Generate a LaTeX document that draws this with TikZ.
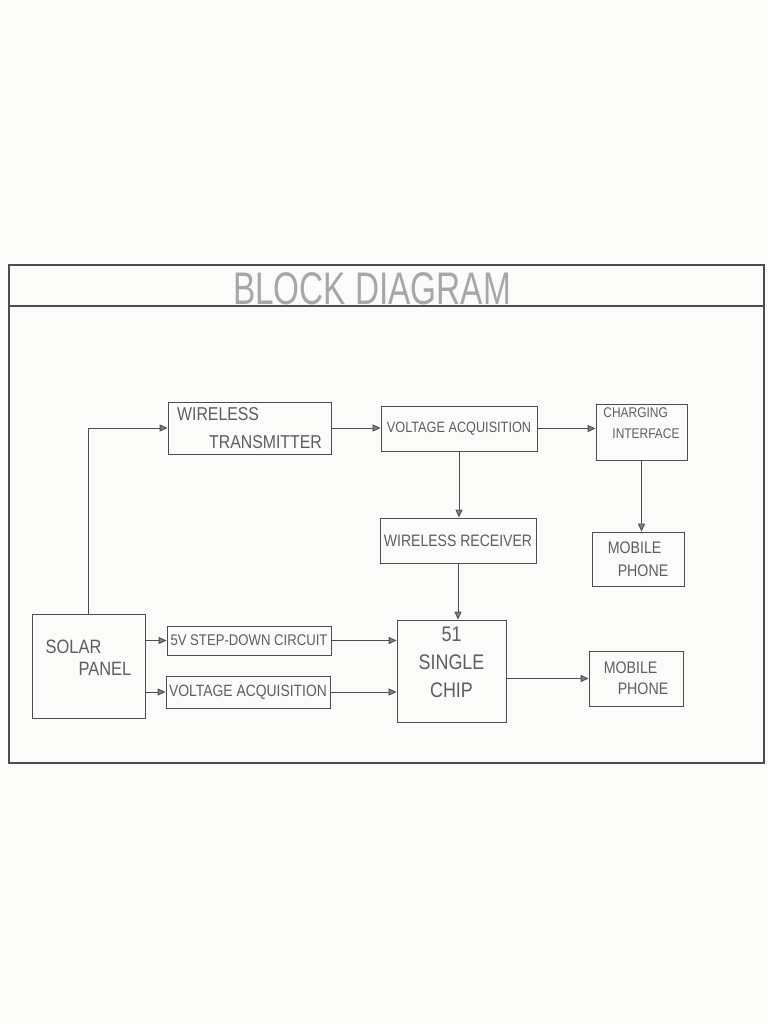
\documentclass[tikz,border=0pt]{standalone}
\usepackage{fontspec}
\setmainfont{Liberation Sans}
\newfontfamily\handfont[FakeStretch=0.85]{Liberation Sans}
\newfontfamily\titlefont[FakeStretch=0.73]{Liberation Sans}
\usetikzlibrary{arrows.meta,positioning}
\definecolor{bdPaper}{HTML}{FBFBFA}
\definecolor{bdPencil}{HTML}{4D4D4D}
\definecolor{bdLead}{HTML}{5E5E5E}
\newcommand{\hsz}[2]{\fontsize{#1}{#2}\selectfont}
\newcommand{\lift}[1]{\rule[-#1]{0pt}{0pt}}

\begin{document}
\begin{tikzpicture}[x=0.02cm,y=-0.02cm,
  blk/.style={draw=bdPencil,line width=0.55pt,inner sep=1pt,text=bdLead},
  flow/.style={draw=bdPencil,line width=0.5pt,
               -{Triangle[length=4.5pt,width=4pt,fill=bdPencil!70]}}]
  \useasboundingbox[fill=bdPaper] (0,0) rectangle (768,1024);
  % sheet frame and title strip
  \draw[bdPencil,line width=0.6pt] (9,265) rectangle (764,763);
  \draw[bdPencil,line width=0.6pt] (9,306) -- (764,306);
  \node[text=bdLead!55,font=\titlefont\hsz{26}{28}] (title) at (372,289) {BLOCK DIAGRAM};

  % upper row
  \node[blk,minimum width=3.26cm,minimum height=1.04cm,align=left,
        font=\handfont\hsz{10.6}{16}] (trans) at (249.5,428)
        {WIRELESS\\\hspace*{0.64cm}TRANSMITTER};
  \node[blk,minimum width=3.12cm,minimum height=0.90cm,
        font=\handfont\hsz{8.5}{10}] (vacqT) at (459,428.5) {VOLTAGE ACQUISITION};
  \node[blk,minimum width=1.82cm,minimum height=1.12cm,align=left,
        font=\handfont\hsz{8}{11.5}] (charge) at (641.5,432)
        {CHARGING\\\hspace*{0.18cm}INTERFACE\lift{0.36cm}};

  % middle row
  \node[blk,minimum width=3.12cm,minimum height=0.90cm,
        font=\handfont\hsz{9.4}{11}] (recv) at (458,540.5) {WIRELESS RECEIVER};
  \node[blk,minimum width=1.84cm,minimum height=1.08cm,align=left,
        font=\handfont\hsz{9.5}{13}] (phoneT) at (638,559)
        {MOBILE\\\hspace*{0.2cm}PHONE};

  % lower row
  \node[blk,minimum width=2.26cm,minimum height=2.08cm,align=left,
        font=\handfont\hsz{11}{12.5}] (solar) at (88.5,666)
        {SOLAR\\\hspace*{0.66cm}PANEL\lift{0.32cm}};
  \node[blk,minimum width=3.28cm,minimum height=0.58cm,
        font=\handfont\hsz{8.8}{10}] (step) at (249,640.5) {5V STEP-DOWN CIRCUIT};
  \node[blk,minimum width=3.28cm,minimum height=0.64cm,
        font=\handfont\hsz{9.3}{10}] (vacqB) at (248,692) {VOLTAGE ACQUISITION};
  \node[blk,minimum width=2.18cm,minimum height=2.04cm,align=center,
        font=\handfont\hsz{12}{16}] (chip) at (451.5,671)
        {51\\SINGLE\\CHIP\lift{0.36cm}};
  \node[blk,minimum width=1.88cm,minimum height=1.10cm,align=left,
        font=\handfont\hsz{9.5}{12}] (phoneR) at (636,678.5)
        {MOBILE\\\hspace*{0.28cm}PHONE};

  % connections
  \draw[flow] (solar.north) |- (trans.west);
  \draw[flow] (trans.east) -- (trans.east -| vacqT.west);
  \draw[flow] (vacqT.east) -- (vacqT.east -| charge.west);
  \draw[flow] (vacqT.south) -- (vacqT.south |- recv.north);
  \draw[flow] (charge.south) -- (charge.south |- phoneT.north);
  \draw[flow] (recv.south) -- (recv.south |- chip.north);
  \draw[flow] (solar.east |- step.west) -- (step.west);
  \draw[flow] (solar.east |- vacqB.west) -- (vacqB.west);
  \draw[flow] (step.east) -- (step.east -| chip.west);
  \draw[flow] (vacqB.east) -- (vacqB.east -| chip.west);
  \draw[flow] (chip.east |- phoneR.west) -- (phoneR.west);
\end{tikzpicture}
\end{document}
